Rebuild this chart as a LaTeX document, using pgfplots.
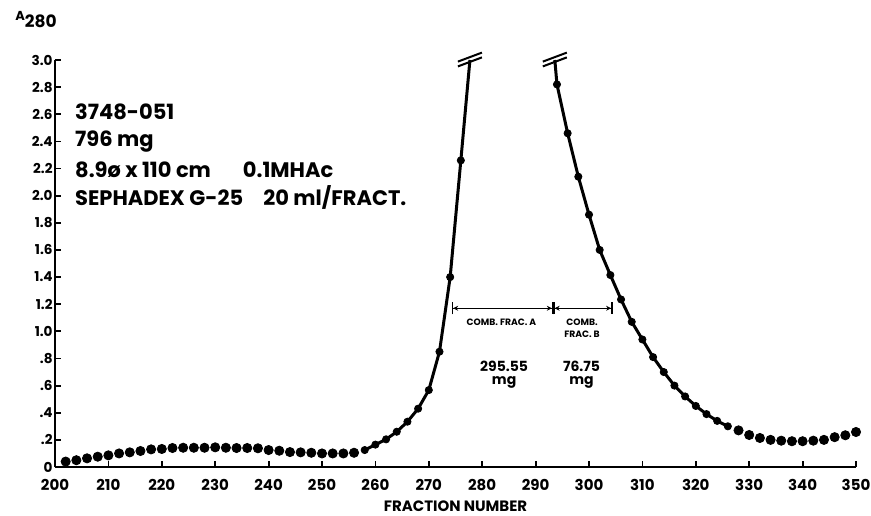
\documentclass[border=0pt]{standalone}
\usepackage{fontspec}
\setmainfont{Poppins}
\usepackage{pgfplots}
\usepackage{pgfplotstable}
\pgfplotsset{compat=1.18}
\usetikzlibrary{arrows.meta}

% baseline fractions (dots only)
\pgfplotstableread{
x y
202 0.040
204 0.050
206 0.064
208 0.076
210 0.086
212 0.100
214 0.108
216 0.118
218 0.130
220 0.133
222 0.140
224 0.142
226 0.142
228 0.142
230 0.145
232 0.142
234 0.140
236 0.140
238 0.138
240 0.125
242 0.120
244 0.110
246 0.108
248 0.105
250 0.100
252 0.100
254 0.100
256 0.105
328 0.270
330 0.236
332 0.214
334 0.200
336 0.194
338 0.190
340 0.190
342 0.194
344 0.200
346 0.220
348 0.234
350 0.258
}\basepts

% rising side of peak
\pgfplotstableread{
x y
258 0.125
260 0.165
262 0.204
264 0.260
266 0.334
268 0.430
270 0.567
272 0.850
274 1.400
276 2.260
}\rise

% falling side of peak
\pgfplotstableread{
x y
294 2.820
296 2.460
298 2.140
300 1.860
302 1.600
304 1.415
306 1.235
308 1.070
310 0.940
312 0.810
314 0.700
316 0.600
318 0.520
320 0.450
322 0.390
324 0.340
326 0.300
}\fall

\begin{document}
\begin{tikzpicture}
\begin{axis}[
  scale only axis,
  width=400.5pt, height=203.5pt,
  xmin=200, xmax=350, ymin=0, ymax=3,
  axis x line*=bottom, axis y line*=left,
  axis line style={line width=1.2pt},
  xtick={200,210,...,350},
  ytick={0,0.2,0.4,0.6,0.8,1.0,1.2,1.4,1.6,1.8,2.0,2.2,2.4,2.6,2.8,3.0},
  yticklabels={0,.2,.4,.6,.8,1.0,1.2,1.4,1.6,1.8,2.0,2.2,2.4,2.6,2.8,3.0},
  tick align=inside,
  major tick length=3pt,
  tick style={line width=0.9pt, black},
  /pgf/number format/assume math mode=true,
  /pgf/number format/1000 sep={},
  xticklabel style={font=\bfseries\fontsize{7.5}{8}\selectfont, yshift=-2.5pt},
  yticklabel style={font=\bfseries\fontsize{6.8}{8}\selectfont, inner sep=1pt},
  clip=false,
]
% connecting line through the peak, cut at 3.0
\addplot[black, line width=1.5pt, no marks] coordinates {
  (258,0.125) (260,0.165) (262,0.204) (264,0.260) (266,0.334) (268,0.430)
  (270,0.567) (272,0.850) (274,1.400) (276,2.260) (277.7,3.0)};
\addplot[black, line width=1.5pt, no marks] coordinates {
  (293.6,3.0) (294,2.820) (296,2.460) (298,2.140) (300,1.860) (302,1.600)
  (304,1.415) (306,1.235) (308,1.070) (310,0.940) (312,0.810) (314,0.700)
  (316,0.600) (318,0.520) (320,0.450) (322,0.390) (324,0.340) (326,0.300)};
\addplot[only marks, mark=*, mark size=1.8pt, black] table {\rise};
\addplot[only marks, mark=*, mark size=1.8pt, black] table {\fall};
\addplot[only marks, mark=*, mark size=2.3pt, black] table {\basepts};

% break marks at the top of the peak
\draw[line width=1pt] ([shift={(-6pt,-3.2pt)}]axis cs:277.7,3.0) -- ++(12pt,4.5pt);
\draw[line width=1pt] ([shift={(-6pt,-0.8pt)}]axis cs:277.7,3.0) -- ++(12pt,4.5pt);
\draw[line width=1pt] ([shift={(-6pt,-3.2pt)}]axis cs:293.6,3.0) -- ++(12pt,4.5pt);
\draw[line width=1pt] ([shift={(-6pt,-0.8pt)}]axis cs:293.6,3.0) -- ++(12pt,4.5pt);

% combined fractions
\draw[line width=0.7pt, {Bar[width=6pt]Stealth[length=2.5pt,width=2.5pt]}-{Stealth[length=2.5pt,width=2.5pt]Bar[width=6pt]}]
  (axis cs:274.3,1.17) -- (axis cs:293.3,1.17);
\draw[line width=0.7pt, {Bar[width=6pt]Stealth[length=2.5pt,width=2.5pt]}-{Stealth[length=2.5pt,width=2.5pt]Bar[width=6pt]}]
  (axis cs:293.3,1.17) -- (axis cs:304.4,1.17);
\node[font=\bfseries\fontsize{4.6}{5.5}\selectfont] at (axis cs:283.6,1.07) {COMB. FRAC. A};
\node[font=\bfseries\fontsize{4.6}{6}\selectfont, align=center] at (axis cs:298.7,1.02) {COMB.\\FRAC. B};
\node[font=\bfseries\fontsize{7}{6.5}\selectfont, align=center] at (axis cs:284.1,0.68) {295.55\\mg};
\node[font=\bfseries\fontsize{7}{6.5}\selectfont, align=center] at (axis cs:298.6,0.68) {76.75\\mg};

% sample information
\node[anchor=west, font=\bfseries\fontsize{10.5}{12}\selectfont, inner sep=0pt] at (axis cs:203.7,2.62) {3748-051};
\node[anchor=west, font=\bfseries\fontsize{10.5}{12}\selectfont, inner sep=0pt] at (axis cs:203.7,2.40) {796 mg};
\node[anchor=west, font=\bfseries\fontsize{10.5}{12}\selectfont, inner sep=0pt] at (axis cs:203.7,2.19) {8.9ø x 110 cm\hspace{16pt}0.1MHAc};
\node[anchor=west, font=\bfseries\fontsize{10.5}{12}\selectfont, inner sep=0pt] at (axis cs:203.7,1.99) {SEPHADEX G-25\hspace{10pt}20 ml/FRACT.};

% axis titles
\node[anchor=west, font=\bfseries\fontsize{6.5}{9}\selectfont, inner sep=0pt] at ([shift={(-20pt,20pt)}]rel axis cs:0,1) {A\raisebox{-3.5pt}{\fontsize{8.5}{9}\selectfont 280}};
\node[font=\bfseries\fontsize{7.5}{9}\selectfont, inner sep=0pt] at ([yshift=-19.5pt]rel axis cs:0.5,0) {FRACTION NUMBER};
\end{axis}
\pgfresetboundingbox
\path ([shift={(-27.5pt,-24pt)}]current axis.south west) rectangle ([shift={(7.5pt,30pt)}]current axis.north east);
\end{tikzpicture}
\end{document}
